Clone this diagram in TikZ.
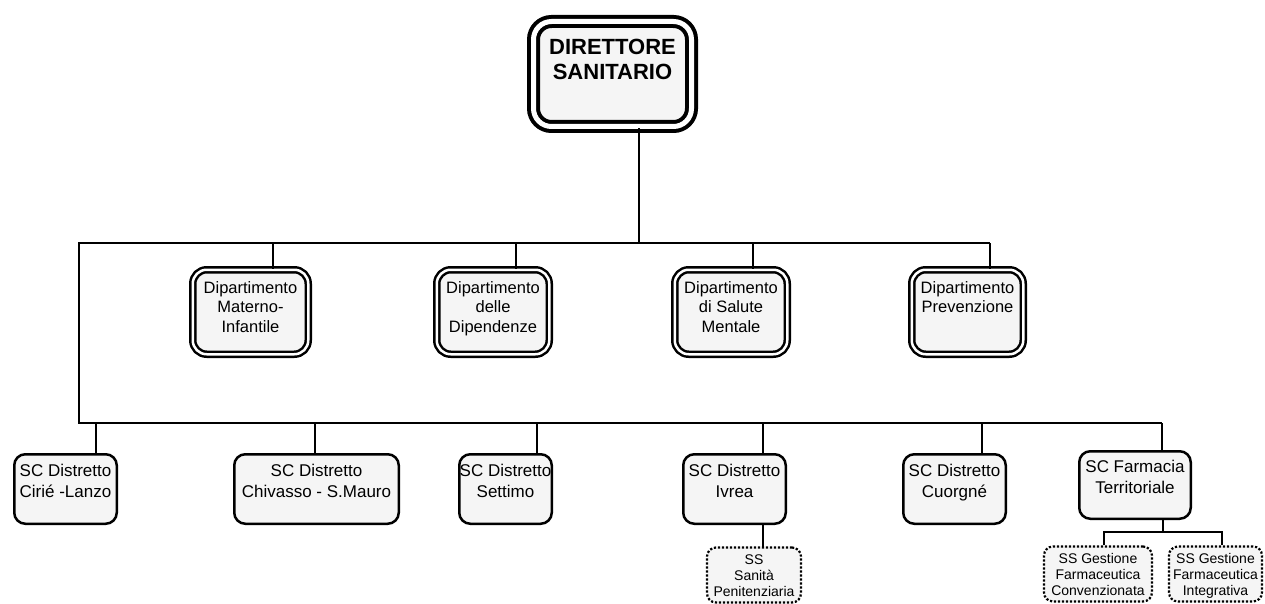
\documentclass[tikz,border=0pt]{standalone}
\usepackage{fontspec}
\setmainfont{Liberation Sans}
\usetikzlibrary{positioning}

\begin{document}
\begin{tikzpicture}[x=1pt, y=-1pt, line width=2pt,
		dirbox/.style={draw, double, double distance=5pt, line width=4pt, rounded corners=18pt, fill=black!4},
		deptbox/.style={draw, double, double distance=2.5pt, line width=2.5pt, rounded corners=14pt, fill=black!4, minimum height=84.5pt},
		scbox/.style={draw, line width=2.5pt, rounded corners=11pt, fill=black!4, minimum height=69.5pt},
		ssbox/.style={draw, line width=2.2pt, dash pattern=on 2.2pt off 1.8pt, rounded corners=9pt, fill=black!4, minimum height=55pt},
		dirtext/.style={inner sep=0pt, align=center, font=\bfseries\fontsize{22}{25}\selectfont},
		depttext/.style={inner sep=0pt, align=center, font=\fontsize{16.5}{19.5}\selectfont},
		sctext/.style={inner sep=0pt, align=center, font=\fontsize{17}{21.5}\selectfont},
		sstext/.style={inner sep=0pt, align=center, font=\fontsize{14}{16}\selectfont}]
					\useasboundingbox (0,0) rectangle (1265,604);
					\def\busTop{243};
					\def\busBottom{423};
					\def\busLeft{79};
					\def\deptY{312};
					\def\scY{489};

					\begin{scope}
						\node[dirbox, minimum width=158pt, minimum height=105pt] (dirsan) at (612.5,74) {};
						\node[dirtext, below=18.5pt of dirsan.north] (dirsan-t) {DIRETTORE\\SANITARIO};
					\end{scope}

					\begin{scope}
						\node[deptbox, minimum width=115.5pt] (materno) at (250.5,\deptY) {};
						\node[deptbox, minimum width=112.5pt] (dipend) at (493,\deptY) {};
						\node[deptbox, minimum width=112.5pt] (salute) at (731,\deptY) {};
						\node[deptbox, minimum width=111.5pt] (prev) at (967.5,\deptY) {};
						\node[depttext, below=12pt of materno.north] (materno-t) {Dipartimento\\Materno-\\Infantile};
						\node[depttext, below=12pt of dipend.north] (dipend-t) {Dipartimento\\delle\\Dipendenze};
						\node[depttext, below=12pt of salute.north] (salute-t) {Dipartimento\\di Salute\\Mentale};
						\node[depttext, below=12pt of prev.north] (prev-t) {Dipartimento\\Prevenzione};
					\end{scope}

					\begin{scope}
						\node[scbox, minimum width=102.5pt] (cirie) at (65.5,\scY) {};
						\node[scbox, minimum width=164.5pt] (chivasso) at (316.5,\scY) {};
						\node[scbox, minimum width=92.5pt] (settimo) at (505.5,\scY) {};
						\node[scbox, minimum width=102.5pt] (ivrea) at (734.5,\scY) {};
						\node[scbox, minimum width=102.5pt] (cuorgne) at (954.5,\scY) {};
						\node[scbox, minimum width=111.5pt, minimum height=67.5pt] (farm) at (1135,485) {};
						\node[sctext, below=10pt of cirie.north] (cirie-t) {SC Distretto\\Cirié -Lanzo};
						\node[sctext, below=10pt of chivasso.north] (chivasso-t) {SC Distretto\\Chivasso - S.Mauro};
						\node[sctext, below=10pt of settimo.north] (settimo-t) {SC Distretto\\Settimo};
						\node[sctext, below=10pt of ivrea.north] (ivrea-t) {SC Distretto\\Ivrea};
						\node[sctext, below=10pt of cuorgne.north] (cuorgne-t) {SC Distretto\\Cuorgné};
						\node[sctext, below=9pt of farm.north] (farm-t) {SC Farmacia\\Territoriale};
					\end{scope}

					\begin{scope}
						\node[ssbox, minimum width=94pt] (sanita) at (754,575) {};
						\node[ssbox, minimum width=108pt] (conv) at (1098,574) {};
						\node[ssbox, minimum width=93pt] (integr) at (1215.5,574) {};
						\node[sstext, below=7pt of sanita.north] (sanita-t) {SS\\Sanità\\Penitenziaria};
						\node[sstext, below=7pt of conv.north] (conv-t) {SS Gestione\\Farmaceutica\\Convenzionata};
						\node[sstext, below=7pt of integr.north] (integr-t) {SS Gestione\\Farmaceutica\\Integrativa};
					\end{scope}

					\begin{scope}
						\coordinate (dirsan-s) at (639,\busTop);
						\coordinate (topleft) at (\busLeft,\busTop);
						\coordinate (botleft) at (\busLeft,\busBottom);
						\coordinate (materno-s) at (273,\busTop);
						\coordinate (dipend-s) at (516,\busTop);
						\coordinate (salute-s) at (753,\busTop);
						\coordinate (prev-s) at (990,\busTop);
						\coordinate (cirie-s) at (96,\busBottom);
						\coordinate (chivasso-s) at (315,\busBottom);
						\coordinate (settimo-s) at (537,\busBottom);
						\coordinate (ivrea-s) at (763,\busBottom);
						\coordinate (cuorgne-s) at (982,\busBottom);
						\coordinate (farm-s) at (1162,\busBottom);
						\coordinate (sanita-s) at (763,547.5);
						\coordinate (farm-j) at (1163,532);
						\coordinate (conv-s) at (1104,532);
						\coordinate (integr-s) at (1222,532);

						\draw (dirsan.south -| dirsan-s) -- (dirsan-s);
						\draw (prev-s) -- (topleft) -- (botleft) -- (farm-s);
						\draw (materno-s) -- (materno-s |- materno.north);
						\draw (dipend-s) -- (dipend-s |- dipend.north);
						\draw (salute-s) -- (salute-s |- salute.north);
						\draw (prev-s) -- (prev-s |- prev.north);
						\draw (cirie-s) -- (cirie-s |- cirie.north);
						\draw (chivasso-s) -- (chivasso-s |- chivasso.north);
						\draw (settimo-s) -- (settimo-s |- settimo.north);
						\draw (ivrea-s) -- (ivrea-s |- ivrea.north);
						\draw (cuorgne-s) -- (cuorgne-s |- cuorgne.north);
						\draw (farm-s) -- (farm-s |- farm.north);
						\draw (ivrea.south -| sanita-s) -- (sanita-s);
						\draw (farm.south -| farm-j) -- (farm-j);
						\draw (conv-s |- conv.north) -- (conv-s) -- (integr-s) -- (integr-s |- integr.north);
					\end{scope}
				\end{tikzpicture}
\end{document}
